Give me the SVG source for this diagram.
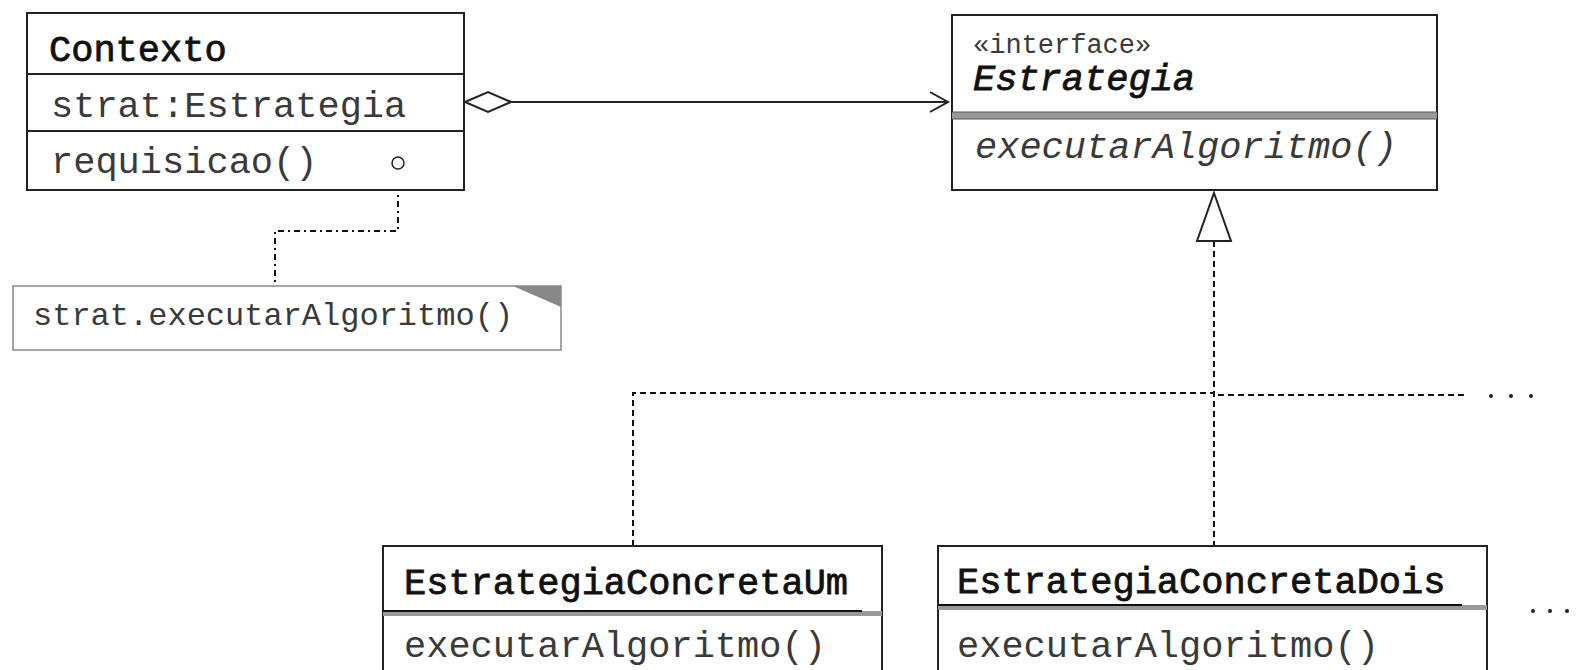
<svg xmlns="http://www.w3.org/2000/svg" width="1581" height="670" viewBox="0 0 1581 670">
<style>
.box{fill:#fff;stroke:#222;stroke-width:2}
.t{font-family:"Liberation Mono","DejaVu Sans Mono",monospace;font-size:37px;fill:#3a3a3a}
.b{fill:#111;stroke:#111;stroke-width:0.8}
.i{font-style:italic}
.dash{fill:none;stroke:#111;stroke-width:2;stroke-dasharray:6 4}
.dd{fill:none;stroke:#111;stroke-width:2;stroke-dasharray:6 4 2 4}
.ln{stroke:#222;stroke-width:2}
.sep{fill:#999}
</style>
<g id="connectors">
<line class="ln" x1="511" y1="102" x2="947" y2="102"/>
<path d="M465,102 L488,92 L511,102 L488,112 Z" fill="#fff" stroke="#222" stroke-width="2"/>
<path d="M930,92 L948,102 L930,112" fill="none" stroke="#222" stroke-width="2"/>
<path class="dd" d="M398,169 V231 H275 V286"/>
<path class="dash" d="M1214,241 V546"/>
<path class="dash" d="M633,546 V393 H1214"/>
<path class="dash" d="M1218,395 H1468"/>
<path d="M1214,193 L1231,241 L1197,241 Z" fill="#fff" stroke="#222" stroke-width="2"/>
<g fill="#222"><circle cx="1491" cy="396" r="2"/><circle cx="1511" cy="396" r="2"/><circle cx="1531" cy="396" r="2"/></g>
</g>
<g id="contexto">
<rect class="box" x="27" y="13" width="437" height="177"/>
<line class="ln" x1="27" y1="74" x2="464" y2="74"/>
<line class="ln" x1="27" y1="131" x2="464" y2="131"/>
<text class="t b" x="49" y="61">Contexto</text>
<text class="t" x="51" y="117">strat:Estrategia</text>
<text class="t" x="51" y="173">requisicao()</text>
<circle cx="398" cy="163" r="6" fill="#fff" stroke="#222" stroke-width="1.5"/>
</g>
<g id="nota">
<rect x="13" y="286" width="548" height="64" fill="#fff" stroke="#888" stroke-width="1.5"/>
<path d="M513,286 L561,286 L561,307 Z" fill="#888"/>
<text class="t" x="33" y="325" style="font-size:32px">strat.executarAlgoritmo()</text>
</g>
<g id="estrategia">
<rect class="box" x="952" y="15" width="485" height="175"/>
<rect class="sep" x="952" y="112" width="485" height="7"/>
<line x1="952" y1="112" x2="1437" y2="112" stroke="#555" stroke-width="1"/>
<line x1="952" y1="119" x2="1437" y2="119" stroke="#555" stroke-width="1"/>
<text class="t" x="973" y="53" style="font-size:27px">«interface»</text>
<text class="t b i" x="973" y="90">Estrategia</text>
<text class="t i" x="975" y="158">executarAlgoritmo()</text>
</g>
<g id="concretaUm">
<rect class="box" x="383" y="546" width="499" height="140"/>
<rect class="sep" x="383" y="611" width="499" height="5"/>
<line x1="383" y1="611" x2="862" y2="611" stroke="#111" stroke-width="2"/>
<text class="t b" x="404" y="594">EstrategiaConcretaUm</text>
<text class="t" x="404" y="657">executarAlgoritmo()</text>
</g>
<g id="concretaDois">
<rect class="box" x="938" y="546" width="549" height="140"/>
<rect class="sep" x="938" y="605" width="549" height="5"/>
<line x1="938" y1="605" x2="1462" y2="605" stroke="#111" stroke-width="2"/>
<text class="t b" x="957" y="593">EstrategiaConcretaDois</text>
<text class="t" x="957" y="657">executarAlgoritmo()</text>
</g>
<g id="reticencias" fill="#222"><circle cx="1533" cy="611" r="2"/><circle cx="1550" cy="611" r="2"/><circle cx="1567" cy="611" r="2"/></g>
</svg>
